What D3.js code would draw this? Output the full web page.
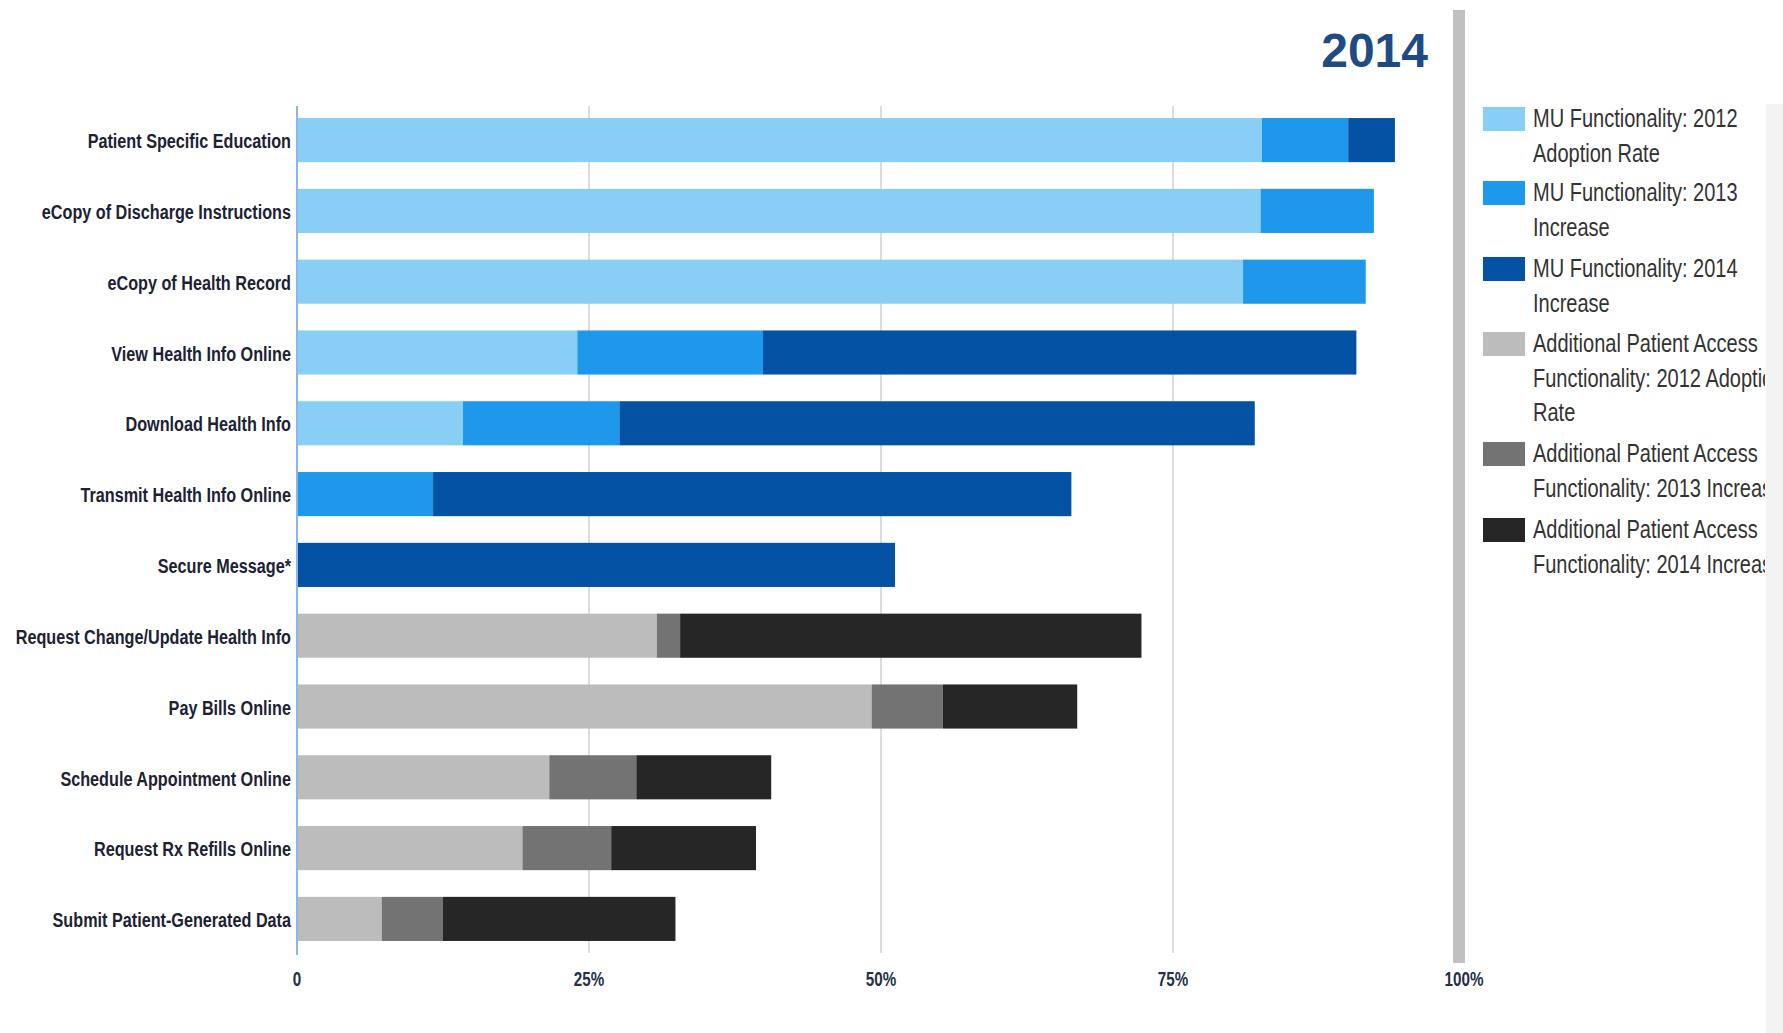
<!DOCTYPE html>
<html>
<head>
<meta charset="utf-8">
<script src="https://cdn.jsdelivr.net/npm/d3@7"></script>
<style>
  body { margin: 0; background: #fff; font-family: "Liberation Sans", Arial, sans-serif; }
  svg { display: block; }
</style>
</head>
<body>
<script>
// stacked adoption bars, 2014 (percent)
var categories = [
  'Patient Specific Education',
  'eCopy of Discharge Instructions',
  'eCopy of Health Record',
  'View Health Info Online',
  'Download Health Info',
  'Transmit Health Info Online',
  'Secure Message*',
  'Request Change/Update Health Info',
  'Pay Bills Online',
  'Schedule Appointment Online',
  'Request Rx Refills Online',
  'Submit Patient-Generated Data'
]

// MU functionality rows (blue)
var mu2012 = [82.6, 82.5, 81.0, 24.0, 14.2, 0, 0, 0, 0, 0, 0, 0]
var mu2013 = [7.4, 9.7, 10.5, 15.9, 13.4, 11.65, 0, 0, 0, 0, 0, 0]
var mu2014 = [4.0, 0, 0, 50.8, 54.4, 54.65, 51.2, 0, 0, 0, 0, 0]
// additional patient access rows (grey)
var ap2012 = [0, 0, 0, 0, 0, 0, 0, 30.8, 49.2, 21.6, 19.3, 7.25]
var ap2013 = [0, 0, 0, 0, 0, 0, 0, 2.0, 6.1, 7.45, 7.6, 5.25]
var ap2014 = [0, 0, 0, 0, 0, 0, 0, 39.5, 11.5, 11.55, 12.4, 19.9]

var seriesKeys = ['mu2012', 'mu2013', 'mu2014', 'ap2012', 'ap2013', 'ap2014']
var seriesLines = [
  ['MU Functionality: 2012', 'Adoption Rate'],
  ['MU Functionality: 2013', 'Increase'],
  ['MU Functionality: 2014', 'Increase'],
  ['Additional Patient Access', 'Functionality: 2012 Adoption', 'Rate'],
  ['Additional Patient Access', 'Functionality: 2013 Increase'],
  ['Additional Patient Access', 'Functionality: 2014 Increase']
]
var seriesColors = ['#89cff5', '#1d98ea', '#0452a3', '#bcbcbc', '#737373', '#262626']

var xTickValues = [0, 25, 50, 75, 100]
var xTickLabels = ['0', '25%', '50%', '75%', '100%']
var title = '2014'

var W = 1783
var H = 1033
var squeeze = 0.79   // the source text is a narrow face

var rows = categories.map(function (c, i) {
  return {
    name: c,
    mu2012: mu2012[i], mu2013: mu2013[i], mu2014: mu2014[i],
    ap2012: ap2012[i], ap2013: ap2013[i], ap2014: ap2014[i]
  }
})

var x = d3.scaleLinear().domain([0, 100]).range([297, 1465])
var y = d3.scaleBand().domain(categories).range([106, 953])
  .paddingInner(0.377).paddingOuter(0.17)
var color = d3.scaleOrdinal().domain(seriesKeys).range(seriesColors)

var svg = d3.select('body').append('svg')
  .attr('width', W)
  .attr('height', H)

// faint strip at the right edge where the legend gets cut
svg.append('rect')
  .attr('x', 1766).attr('y', 104)
  .attr('width', W - 1766).attr('height', H - 104)
  .attr('fill', '#f3f3f3')

// gridlines
svg.append('g').selectAll('line')
  .data([25, 50, 75])
  .enter().append('line')
  .attr('x1', function (d) { return x(d) })
  .attr('x2', function (d) { return x(d) })
  .attr('y1', 106).attr('y2', 953)
  .attr('stroke', '#d3d1d8')
  .attr('stroke-width', 1.5)

// the thick grey 100% rule
svg.append('rect')
  .attr('x', x(100) - 12).attr('y', 10)
  .attr('width', 12).attr('height', 953)
  .attr('fill', '#c0c0c0')

// bars
var stack = d3.stack().keys(seriesKeys)
svg.append('g').selectAll('g')
  .data(stack(rows))
  .enter().append('g')
  .attr('fill', function (d) { return color(d.key) })
  .selectAll('rect')
  .data(function (d) { return d.filter(function (s) { return s[1] - s[0] > 0 }) })
  .enter().append('rect')
  .attr('x', function (d) { return x(d[0]) })
  .attr('y', function (d) { return y(d.data.name) })
  .attr('width', function (d) { return x(d[1]) - x(d[0]) })
  .attr('height', y.bandwidth())

// left axis line
svg.append('line')
  .attr('x1', x(0)).attr('x2', x(0))
  .attr('y1', 106).attr('y2', 955)
  .attr('stroke', '#8ab6ea')
  .attr('stroke-width', 2)

// category labels
svg.append('g').selectAll('text')
  .data(categories)
  .enter().append('text')
  .attr('transform', function (d) {
    return 'translate(291,' + (y(d) + y.bandwidth() / 2) + ') scale(' + squeeze + ',1)'
  })
  .attr('dy', '0.4em')
  .attr('text-anchor', 'end')
  .attr('font-size', 20.5)
  .attr('font-weight', 'bold')
  .attr('fill', '#1c2233')
  .text(function (d) { return d })

// x tick labels
var xAxis = d3.axisBottom(x)
  .tickValues(xTickValues)
  .tickSize(0)
  .tickFormat(function (d, i) { return xTickLabels[i] })
var gx = svg.append('g')
  .attr('transform', 'translate(0,970)')
  .call(xAxis)
gx.select('.domain').remove()
gx.selectAll('text')
  .attr('y', 0)
  .attr('dy', '0.8em')
  .attr('transform', 'scale(0.76,1)')
  .attr('x', 0)
  .attr('font-family', '"Liberation Sans", Arial, sans-serif')
  .attr('font-size', 20)
  .attr('font-weight', 'bold')
  .attr('fill', '#23304a')
gx.selectAll('.tick').each(function (d) {
  d3.select(this).attr('transform', 'translate(' + (d === 100 ? x(d) - 1 : x(d)) + ',0)')
})

// title
svg.append('text')
  .attr('x', 1428).attr('y', 67)
  .attr('text-anchor', 'end')
  .attr('font-size', 48)
  .attr('font-weight', 'bold')
  .attr('fill', '#1f4b84')
  .text(title)

// legend, clipped on the right like the source
svg.append('clipPath').attr('id', 'legend-clip')
  .append('rect')
  .attr('x', 1470).attr('y', 90)
  .attr('width', 1765 - 1470).attr('height', 500)

var legendTops = [107, 181, 257, 332, 442, 518]
var legend = svg.append('g').attr('clip-path', 'url(#legend-clip)')
var item = legend.selectAll('g')
  .data(seriesKeys)
  .enter().append('g')
  .attr('transform', function (d, i) { return 'translate(1483,' + legendTops[i] + ')' })

item.append('rect')
  .attr('width', 42).attr('height', 24)
  .attr('fill', function (d) { return color(d) })

item.each(function (d, i) {
  var g = d3.select(this)
  seriesLines[i].forEach(function (line, j) {
    g.append('text')
      .attr('transform', 'translate(50,' + (20 + j * 34.5) + ') scale(0.77,1)')
      .attr('font-size', 26)
      .attr('fill', '#333')
      .text(line)
  })
})
</script>
</body>
</html>
